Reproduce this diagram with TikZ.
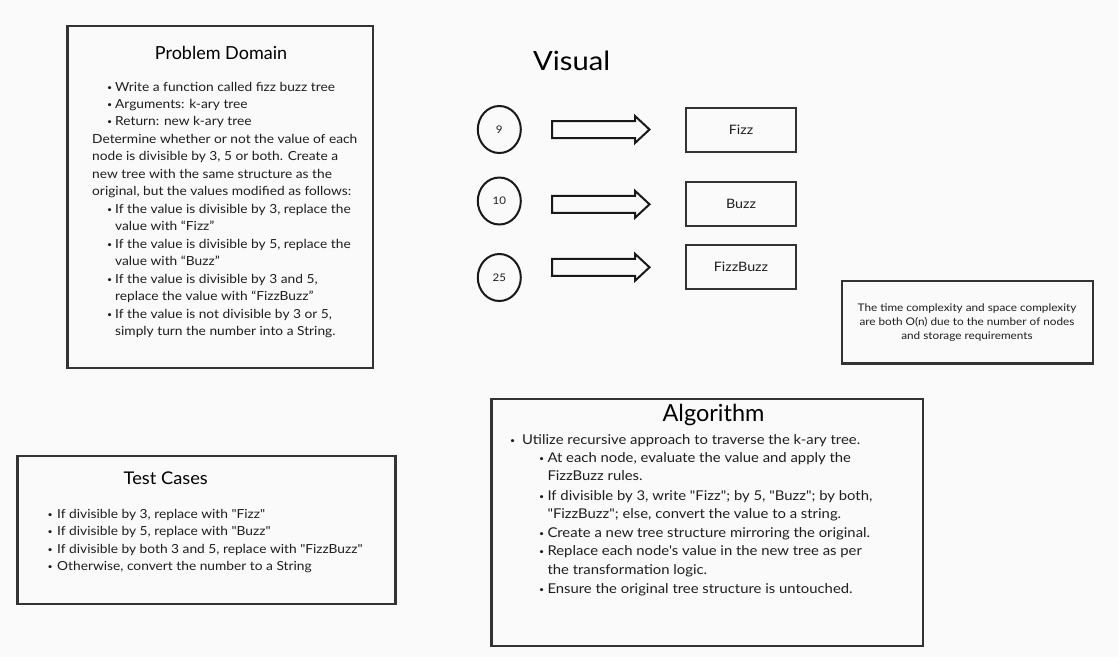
\documentclass[tikz,border=0pt]{standalone}
\usepackage{fontspec}
\setmainfont{Lato}[Ligatures=TeXOff]
\newfontfamily\wide{Lato}[Ligatures=TeXOff,FakeStretch=1.1]
\newfontfamily\alg{Lato}[Ligatures=TeXOff,FakeStretch=1.045]
\newfontfamily\cmp{Lato}[Ligatures=TeXOff,FakeStretch=1.12]
\usetikzlibrary{shapes.geometric}
\definecolor{ink}{HTML}{1E1E1E}
\definecolor{edge}{HTML}{333333}
\definecolor{paper}{HTML}{FAFAFA}
\newcommand{\bul}{\raisebox{0.9pt}{\fontsize{8}{8}\selectfont •}}
\begin{document}
\begin{tikzpicture}[x=1pt,y=-1pt,
  frame/.style={draw=edge,line width=2.2pt},
  body/.style={anchor=base west,inner sep=0pt,text=ink,font=\wide\fontsize{12.5}{15}\selectfont},
  algtxt/.style={anchor=base west,inner sep=0pt,text=ink,font=\wide\fontsize{13.5}{16}\selectfont},
  cmptxt/.style={anchor=base,inner sep=0pt,text=ink,font=\cmp\fontsize{10.5}{12}\selectfont},
  title/.style={anchor=base,inner sep=0pt,text=black},
  valnode/.style={ellipse,draw=black!90,line width=2pt,minimum width=43pt,minimum height=47pt,inner sep=0pt,font=\wide\fontsize{10.5}{12}\selectfont,text=ink},
  resnode/.style={rectangle,draw=edge,line width=2.2pt,minimum width=110pt,minimum height=44pt,inner sep=0pt,font=\wide\fontsize{13}{15}\selectfont,text=ink},
  blockarrow/.style={draw=black!90,line width=2pt,fill=paper,line join=miter}
]
\useasboundingbox (0,0) rectangle (1118,657);
\fill[paper] (0,0) rectangle (1118,657);

% ---------- Problem Domain ----------
\draw[frame] (67.5,26) rectangle (373,368);
\node[title,font=\fontsize{18}{20}\selectfont] (pdt) at (221,59.5) {Problem Domain};
\node[body] (pd1) at (107,91) {\makebox[8pt][l]{\bul}Write a function called fizz buzz tree};
\node[body] (pd2) at (107,108) {\makebox[8pt][l]{\bul}Arguments: k-ary tree};
\node[body] (pd3) at (107,125.5) {\makebox[8pt][l]{\bul}Return: new k-ary tree};
\node[body] (pd4) at (92,143) {Determine whether or not the value of each};
\node[body] (pd5) at (92,160.5) {node is divisible by 3, 5 or both. Create a};
\node[body] (pd6) at (92,178) {new tree with the same structure as the};
\node[body] (pd7) at (92,195.5) {original, but the values modified as follows:};
\node[body] (pd8) at (107,213) {\makebox[8pt][l]{\bul}If the value is divisible by 3, replace the};
\node[body] (pd9) at (115,230.5) {value with “Fizz”};
\node[body] (pd10) at (107,248) {\makebox[8pt][l]{\bul}If the value is divisible by 5, replace the};
\node[body] (pd11) at (115,265.5) {value with “Buzz”};
\node[body] (pd12) at (107,283) {\makebox[8pt][l]{\bul}If the value is divisible by 3 and 5,};
\node[body] (pd13) at (115,300.5) {replace the value with “FizzBuzz”};
\node[body] (pd14) at (107,318) {\makebox[8pt][l]{\bul}If the value is not divisible by 3 or 5,};
\node[body] (pd15) at (115,335.5) {simply turn the number into a String.};

% ---------- Visual ----------
\node[anchor=base west,inner sep=0pt,text=black,font=\wide\fontsize{26.5}{30}\selectfont] (vis) at (533,70.7) {Visual};

\node[valnode] (v9) at (499.3,129.5) {9};
\node[valnode] (v10) at (499.3,201) {10};
\node[valnode] (v25) at (499.3,277.5) {25};

\foreach \yc in {129.5,204.3,267.3}{
  \draw[blockarrow] (552,\yc-8.5) -- (635,\yc-8.5) -- (635,\yc-13.5) -- (649.5,\yc)
     -- (635,\yc+13.5) -- (635,\yc+8.5) -- (552,\yc+8.5) -- cycle;
}

\node[resnode] (rf) at (741,130) {Fizz};
\node[resnode] (rb) at (741,204) {Buzz};
\node[resnode] (rfb) at (741,267) {FizzBuzz};

% ---------- Complexity ----------
\draw[frame] (842,281) rectangle (1093,363.5);
\node[cmptxt] (c1) at (967,311) {The time complexity and space complexity};
\node[cmptxt] (c2) at (967,325) {are both O(n) due to the number of nodes};
\node[cmptxt] (c3) at (967,339) {and storage requirements};

% ---------- Algorithm ----------
\draw[frame] (491.5,399) rectangle (923,646);
\node[title,font=\fontsize{23.5}{26}\selectfont] (algt) at (713.5,421.7) {Algorithm};
\node[algtxt] (al1) at (510,444) {\makebox[12pt][l]{\bul}Utilize recursive approach to traverse the k-ary tree.};
\node[algtxt] (al2) at (539,462) {\makebox[8.3pt][l]{\bul}At each node, evaluate the value and apply the};
\node[algtxt] (al3) at (547.3,480.7) {FizzBuzz rules.};
\node[algtxt] (al4) at (539,500) {\makebox[8.3pt][l]{\bul}If divisible by 3, write "Fizz"; by 5, "Buzz"; by both,};
\node[algtxt] (al5) at (547.3,518.5) {"FizzBuzz"; else, convert the value to a string.};
\node[algtxt] (al6) at (539,537.3) {\makebox[8.3pt][l]{\bul}Create a new tree structure mirroring the original.};
\node[algtxt] (al7) at (539,555.7) {\makebox[8.3pt][l]{\bul}Replace each node's value in the new tree as per};
\node[algtxt] (al8) at (547.3,574.3) {the transformation logic.};
\node[algtxt] (al9) at (539,593.3) {\makebox[8.3pt][l]{\bul}Ensure the original tree structure is untouched.};

% ---------- Test Cases ----------
\draw[frame] (17.5,456) rectangle (395.5,604);
\node[title,font=\alg\fontsize{17.5}{20}\selectfont] (tct) at (165.8,484.7) {Test Cases};
\node[body] (tc1) at (47.5,518.3) {\makebox[9.5pt][l]{\bul}If divisible by 3, replace with "Fizz"};
\node[body] (tc2) at (47.5,535.7) {\makebox[9.5pt][l]{\bul}If divisible by 5, replace with "Buzz"};
\node[body] (tc3) at (47.5,553.3) {\makebox[9.5pt][l]{\bul}If divisible by both 3 and 5, replace with "FizzBuzz"};
\node[body] (tc4) at (47.5,570.7) {\makebox[9.5pt][l]{\bul}Otherwise, convert the number to a String};
\end{tikzpicture}
\end{document}
